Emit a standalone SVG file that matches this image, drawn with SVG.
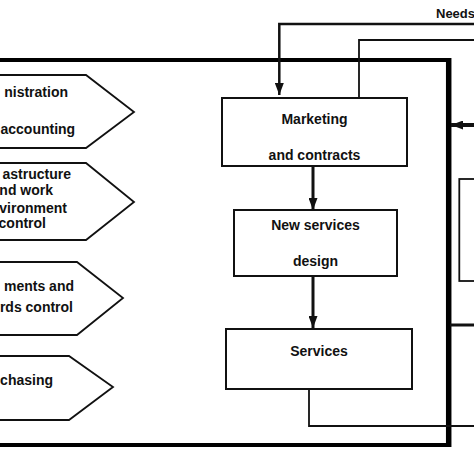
<svg xmlns="http://www.w3.org/2000/svg" width="474" height="474" viewBox="0 0 474 474">
<style>
text{font-family:"Liberation Sans",Arial,sans-serif;font-weight:bold;font-size:14px;fill:#111}
.c{text-anchor:middle}
.e{text-anchor:end}
.box{fill:#fff;stroke:#111;stroke-width:2}
.pent{fill:#fff;stroke:#111;stroke-width:1.8}
.thin{fill:none;stroke:#111;stroke-width:1.8}
.mid{fill:none;stroke:#111;stroke-width:3}
.thick{fill:none;stroke:#000;stroke-width:4}
</style>
<defs>
<marker id="ah" viewBox="0 0 12 9" refX="12" refY="4.5" markerWidth="12" markerHeight="9" markerUnits="userSpaceOnUse" orient="auto">
<path d="M0,0 L12,4.5 L0,9 Z" fill="#111"/>
</marker>
</defs>
<rect width="474" height="474" fill="#fff"/>
<g id="connectors">
<line class="thick" x1="-2" y1="60" x2="451" y2="60"/>
<line class="thick" x1="-2" y1="445" x2="451" y2="445"/>
<line x1="448.7" y1="58" x2="448.7" y2="447" stroke="#000" stroke-width="5.5"/>
<polyline class="thin" points="476,24 279.3,24 279.3,95" marker-end="url(#ah)" style="stroke-width:2.5"/>
<polyline class="thin" points="476,40 359,40 359,97"/>
<line class="mid" x1="313" y1="167" x2="313" y2="210" marker-end="url(#ah)"/>
<line class="mid" x1="313" y1="277" x2="313" y2="328" marker-end="url(#ah)"/>
<polyline class="thin" points="309,389 309,426 476,426"/>
<line class="mid" x1="476" y1="125" x2="451" y2="125" marker-end="url(#ah)" style="stroke-width:4"/>
<line class="mid" x1="450" y1="325" x2="476" y2="325"/>
</g>
<g id="needs-label"><text x="436" y="18" style="font-size:13px">Needs</text></g>
<g id="marketing">
<rect class="box" x="222" y="98" width="185" height="68"/>
<text class="c" x="314.5" y="124">Marketing</text>
<text class="c" x="314.5" y="160">and contracts</text>
</g>
<g id="new-services">
<rect class="box" x="234" y="210" width="163" height="66"/>
<text class="c" x="315.5" y="230">New services</text>
<text class="c" x="315.5" y="266">design</text>
</g>
<g id="services">
<rect class="box" x="226" y="329" width="186" height="60"/>
<text class="c" x="319" y="356">Services</text>
</g>
<g id="right-box">
<rect class="thin" x="459.3" y="179" width="30" height="102"/>
</g>
<g id="administration">
<polygon class="pent" points="-5,75 86,75 134,112 86,148 -5,148"/>
<text class="e" x="68" y="97">nistration</text>
<text x="0.5" y="134">accounting</text>
</g>
<g id="infrastructure">
<polygon class="pent" points="-5,163 86,163 134,202 86,240 -5,240"/>
<text class="e" x="71" y="179">astructure</text>
<text class="e" x="53" y="195">nd work</text>
<text class="e" x="67" y="213">vironment</text>
<text class="e" x="46" y="228">control</text>
</g>
<g id="documents">
<polygon class="pent" points="-5,262 77,262 123,298 77,335 -5,335"/>
<text class="e" x="74" y="291">ments and</text>
<text class="e" x="73" y="312">rds control</text>
</g>
<g id="purchasing">
<polygon class="pent" points="-5,356 69,356 113,387 69,420 -5,420"/>
<text class="e" x="53" y="385">chasing</text>
</g>
</svg>
